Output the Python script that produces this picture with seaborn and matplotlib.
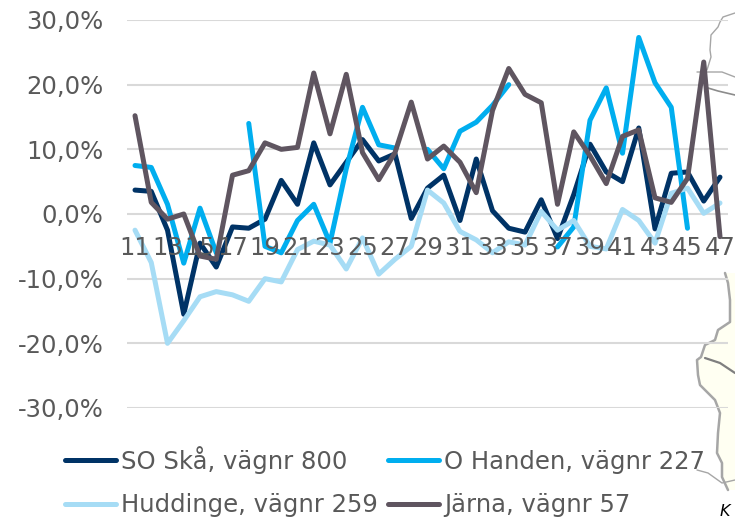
import matplotlib
matplotlib.use('Agg')
import matplotlib.pyplot as plt
from matplotlib.lines import Line2D
import seaborn as sns
import pandas as pd
import numpy as np

nan = np.nan
weeks = list(range(11, 48))

so_ska = [3.7, 3.5, -2.5, -15.5, -4.5, -8.2, -2, -2.2, -0.8, 5.2, 1.5, 11, 4.5, 8, 11.5, 8.2, 9.3,
          -0.7, 4, 6, -1, 8.5, 0.5, -2.2, -2.8, 2.2, -3.8, 3, 10.8, 6.5, 5, 13.3, -2.3, 6.3, 6.5, 2, 5.7]
o_handen = [7.5, 7.2, 1.5, -7.6, 0.9, -6, nan, 14, -5, -6, -1, 1.5, -4.5, 7, 16.5, 10.7, 10.2,
            nan, 10, 7, 12.8, 14.2, 16.8, 20, nan, nan, -5.1, -2, 14.5, 19.5, 9.4, 27.3, 20.3, 16.5, -2.2, nan, nan]
huddinge = [-2.5, -7.5, -20, -16.5, -12.8, -12, -12.5, -13.5, -10, -10.5, -5.5, -4.2, -4.8, -8.5, -3.7, -9.3, -7,
            -5, 3.7, 1.7, -2.7, -4, -6, -4.3, -4.8, 0.4, -2.5, -1, -5, -5.4, 0.7, -1, -4.5, 3.2, 4, 0.1, 1.7]
jarna = [15.2, 1.8, -0.8, 0, -6.5, -7, 6, 6.7, 11, 10, 10.3, 21.8, 12.4, 21.6, 9.5, 5.3, 9.5,
         17.3, 8.5, 10.5, 8, 3.3, 16, 22.5, 18.5, 17.2, 1.5, 12.7, 9, 4.7, 12, 13, 2.5, 1.8, 5.5, 23.5, -3.5]

series_names = ['SO Skå, vägnr 800', 'O Handen, vägnr 227', 'Huddinge, vägnr 259', 'Järna, vägnr 57']
colors = ['#003366', '#00AEEF', '#A6DCF5', '#5F5560']
tick_weeks = weeks[::2]
y_ticks = [30, 20, 10, 0, -10, -20, -30]

# scraps of a map showing behind the chart, in image pixels
map_coast = [(725, 273), (728, 283), (730, 300), (730, 322), (718, 330), (715, 340), (705, 345), (701, 357),
             (697, 360), (698, 375), (700, 385), (715, 400), (720, 413), (718, 433), (717, 453), (722, 463),
             (722, 477), (728, 490)]
map_road = [(705, 358), (720, 363), (735, 373)]
map_thin = [(697, 470), (708, 473), (722, 483), (735, 480)]
map_top = [(735, 13), (723, 17), (720, 22), (718, 27), (711, 35), (710, 50), (711, 57), (707, 70)]
map_top2 = [(697, 72), (722, 72), (735, 77)]
map_top3 = [(708, 88), (718, 91), (735, 95)]

df = pd.DataFrame({'week': weeks, series_names[0]: so_ska, series_names[1]: o_handen,
                   series_names[2]: huddinge, series_names[3]: jarna})
long = df.melt(id_vars='week', var_name='serie', value_name='value')
# lineplot drops missing weeks, so split each series where it has a gap
long['segment'] = long.groupby('serie')['value'].transform(lambda s: s.isna().cumsum())
long['segment'] = long['serie'] + long['segment'].astype(str)

sns.set_theme(style='white')
plt.rcParams['font.family'] = ['DejaVu Sans']

W, H = 735, 518
fig = plt.figure(figsize=(W / 100, H / 100), dpi=100)

bg = fig.add_axes([0, 0, 1, 1], zorder=-1)
bg.set_xlim(0, W)
bg.set_ylim(H, 0)
bg.axis('off')
bg.fill([p[0] for p in map_coast] + [W, W], [p[1] for p in map_coast] + [490, 273], color='#FFFFF2', lw=0)
bg.plot(*zip(*map_coast), color='#A6A6A6', lw=1.8)
bg.plot(*zip(*map_road), color='#7F7F7F', lw=1.6)
bg.plot(*zip(*map_thin), color='#A6A6A6', lw=1)
bg.plot(*zip(*map_top), color='#A6A6A6', lw=1)
bg.plot(*zip(*map_top2), color='#A6A6A6', lw=1)
bg.plot(*zip(*map_top3), color='#8C8C8C', lw=1.2)

ax = fig.add_axes([127 / W, 1 - 408 / H, (728 - 127) / W, (408 - 20) / H])
sns.lineplot(data=long, x='week', y='value', hue='serie', hue_order=series_names, palette=colors,
             units='segment', linewidth=3.6, ax=ax, legend=False, errorbar=None, estimator=None,
             solid_joinstyle='round', solid_capstyle='round')

ax.set_xlim(11 - 8 / 16.25, 47 + 8 / 16.25)
ax.set_ylim(-30, 30)
ax.set_xlabel('')
ax.set_ylabel('')
ax.set_yticks(y_ticks)
ax.set_yticklabels([f'{v},0%' for v in y_ticks])
ax.set_xticks(tick_weeks)
ax.set_xticklabels([str(w) for w in tick_weeks])
ax.tick_params(axis='x', length=0, pad=16, labelsize=17.5, labelcolor='#595959')
ax.tick_params(axis='y', length=0, pad=17, labelsize=17.5, labelcolor='#595959')
# week labels hang off the zero line
ax.spines['bottom'].set_position(('data', 0))
for side in ['top', 'left', 'right', 'bottom']:
    ax.spines[side].set_visible(False)
ax.grid(axis='y', color='#D9D9D9', linewidth=1.5)
ax.set_axisbelow(True)
ax.xaxis.set_zorder(5)
ax.patch.set_alpha(0)

# columns fill first, so list them column by column
order = [0, 2, 1, 3]
handles = [Line2D([0], [0], color=colors[i], lw=3.6, solid_capstyle='round') for i in order]
fig.legend(handles, [series_names[i] for i in order], ncol=2, loc='upper left',
           bbox_to_anchor=(65 / W, 1 - 446 / H), frameon=False, fontsize=17.5, labelcolor='#595959',
           handlelength=2.1, handletextpad=0.2, columnspacing=0.43, labelspacing=0.8, borderpad=0,
           borderaxespad=0)

fig.text(720 / W, 1 - 516 / H, 'K', fontsize=11.5, style='italic', color='black', va='baseline')

fig.savefig('out.png', dpi=100)
